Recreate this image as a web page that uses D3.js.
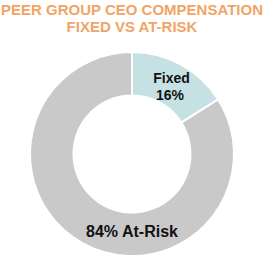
<!DOCTYPE html>
<html><head><meta charset="utf-8">
<script src="https://cdn.jsdelivr.net/npm/d3@7"></script>
<style>body{margin:0;background:#fff;}svg{display:block;}</style>
</head><body>
<script>
const categories = ["Fixed", "At-Risk"];
const values = [16, 84];
const colors = ["#c6e1e3", "#c9c9c9"];
const titleLines = ["PEER GROUP CEO COMPENSATION", "FIXED VS AT-RISK"];

const W = 264, H = 261;
const svg = d3.select("body").append("svg").attr("width", W).attr("height", H);

svg.selectAll("text.title").data(titleLines).enter().append("text")
  .attr("class", "title")
  .attr("x", W / 2).attr("y", (d, i) => 15 + i * 16.8)
  .attr("text-anchor", "middle")
  .attr("font-family", "Liberation Sans, Arial, sans-serif")
  .attr("font-weight", "bold").attr("font-size", 15)
  .attr("fill", "#f2a466")
  .text(d => d);

const cx = 132, cy = 154, rOuter = 102, rInner = 58.5;
const g = svg.append("g").attr("transform", `translate(${cx},${cy})`);
const pie = d3.pie().sort(null).value(d => d)(values);
const arc = d3.arc().innerRadius(rInner).outerRadius(rOuter);
g.selectAll("path").data(pie).enter().append("path")
  .attr("d", arc).attr("fill", (d, i) => colors[i])
  .attr("stroke", "#fff").attr("stroke-width", 2);

const font = "Liberation Sans, Arial, sans-serif";
// Fixed label
const fl = g.append("text").attr("text-anchor", "middle")
  .attr("font-family", font).attr("font-weight", "bold").attr("font-size", 14).attr("fill", "#111");
fl.append("tspan").attr("x", 39.5).attr("y", -71).text(categories[0]);
fl.append("tspan").attr("x", 38).attr("y", -54).text(values[0] + "%");

// At-Risk label
g.append("text").attr("text-anchor", "middle")
  .attr("x", 0).attr("y", 83)
  .attr("font-family", font).attr("font-weight", "bold").attr("font-size", 16).attr("fill", "#111")
  .text(values[1] + "% " + categories[1]);
</script>
</body></html>
